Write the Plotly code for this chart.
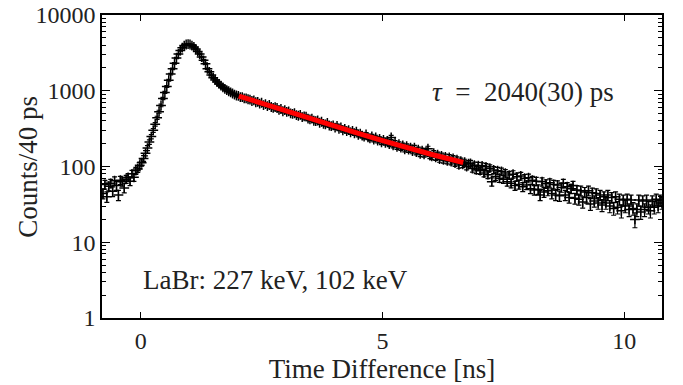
import numpy as np
import plotly.graph_objects as go

# Time bins (ns), 40 ps wide
t_start = -0.78
bin_width = 0.04

counts = [
    # -0.78 .. -0.02
    44, 58, 40, 55, 60, 47, 65, 56, 42, 66,
    63, 52, 68, 72, 64, 80, 72, 88, 93, 104,
    # 0.02 .. 0.98
    112, 128, 150, 175, 210, 248, 300, 360, 440, 530,
    640, 790, 950, 1140, 1380, 1660, 1950, 2300, 2700, 3050,
    3400, 3700, 3950, 4080, 4120,
    # 1.02 .. 1.98
    4080, 3950, 3780, 3560, 3300, 3050, 2780, 2520, 2280, 1950,
    1780, 1620, 1490, 1390, 1300, 1230, 1170, 1110, 1060, 1020,
    985, 950, 920, 890, 865,
    # 2.02 .. 6.78
    858, 826, 822, 792, 795,
    772, 765, 732, 745, 705,
    715, 676, 694, 646, 664,
    628, 648, 610, 596, 608,
    592, 558, 574, 536, 554,
    526, 533, 502, 496, 505,
    478, 468, 480, 448, 460,
    455, 428, 418, 428, 402,
    396, 405, 378, 390, 366,
    360, 375, 347, 342, 350,
    326, 343, 315, 327, 301,
    314, 293, 302, 282, 295,
    274, 288, 262, 272, 255,
    248, 265, 242, 235, 250,
    227, 243, 219, 231, 209,
    224, 205, 217, 197, 242,
    190, 206, 182, 198, 177,
    190, 169, 185, 167, 178,
    160, 177, 155, 167, 147,
    162, 145, 157, 172, 139,
    136, 150, 132, 143, 125,
    138, 122, 134, 119, 132,
    116, 128, 111, 123, 105,
    118, 107, 114, 100, 109,
    # 6.82 .. 10.78
    110, 94, 104, 90, 103,
    88, 102, 82, 99, 78,
    95, 63, 90, 74, 88,
    70, 86, 68, 82, 63,
    77, 60, 79, 56, 73,
    58, 75, 54, 70, 57,
    71, 51, 66, 49, 64,
    50, 42, 63, 46, 59,
    48, 61, 44, 58, 42,
    57, 41, 53, 60, 42,
    54, 39, 51, 56, 38,
    49, 37, 48, 34, 46,
    39, 48, 32, 45, 35,
    44, 33, 42, 31, 40,
    33, 42, 30, 39, 28,
    40, 29, 37, 26, 36,
    30, 37, 27, 36, 28,
    20, 27, 36, 25, 35,
    27, 36, 29, 26, 35,
    29, 37, 30, 36, 33,
]

time_ns = [round(t_start + bin_width * i, 2) for i in range(len(counts))]
errors = [float(np.sqrt(c)) for c in counts]

# Exponential fit curve
fit_x = [2.03, 2.5, 3.0, 3.5, 4.0, 4.5, 5.0, 5.5, 6.0, 6.67]
fit_y = [850, 681, 539, 428, 341, 273, 220, 178, 145, 113]

y_tickvals = [1, 10, 100, 1000, 10000]
y_ticktext = ["1", "10", "100", "1000", "10000"]
x_tickvals = [0, 5, 10]

FONT = "Times New Roman"
TXT = "#222222"


def f(size):
    return dict(family=FONT, size=size, color=TXT)


fig = go.Figure()
fig.add_trace(go.Scatter(
    x=time_ns, y=counts, mode="markers",
    marker=dict(symbol="cross-thin", size=7, color="black",
                line=dict(color="black", width=1.5)),
    error_y=dict(type="data", array=errors, visible=True,
                 color="black", thickness=1.2, width=2.5),
    showlegend=False,
))
fig.add_trace(go.Scatter(
    x=fit_x, y=fit_y, mode="lines",
    line=dict(color="#ff0000", width=5),
    showlegend=False,
))

fig.update_layout(
    template="none",
    width=683, height=385,
    margin=dict(l=102, r=21, t=15, b=67),
    paper_bgcolor="white", plot_bgcolor="white",
    font=f(24),
    xaxis=dict(
        range=[-0.8, 10.78], tickvals=x_tickvals,
        ticks="inside", ticklen=6, tickwidth=1, tickcolor="black",
        showline=True, linecolor="black", linewidth=1.6, mirror="ticks",
        showgrid=False, zeroline=False,
        title=dict(text="Time Difference [ns]", standoff=2, font=f(27)),
        tickfont=f(24),
    ),
    yaxis=dict(
        type="log", range=[0, 4], tickvals=y_tickvals, ticktext=y_ticktext,
        ticks="inside", ticklen=8, tickwidth=1, tickcolor="black",
        minor=dict(ticks="inside", ticklen=4, tickwidth=1, tickcolor="black",
                   dtick="D1", showgrid=False),
        showline=True, linecolor="black", linewidth=1.6, mirror="ticks",
        showgrid=False, zeroline=False,
        tickfont=f(24),
    ),
    annotations=[
        dict(text="Counts/40 ps", xref="paper", yref="paper",
             x=-0.1333, y=0.5, xanchor="center", yanchor="middle",
             textangle=-90, showarrow=False, font=f(27)),
        dict(text="<i>τ</i>  =  2040(30) ps", xref="paper", yref="paper",
             x=0.586, y=0.747, xanchor="left", yanchor="middle",
             showarrow=False, font=f(27)),
        dict(text="LaBr: 227 keV, 102 keV", xref="paper", yref="paper",
             x=0.07, y=0.125, xanchor="left", yanchor="middle",
             showarrow=False, font=f(27)),
    ],
)

fig.write_html("out.html")
